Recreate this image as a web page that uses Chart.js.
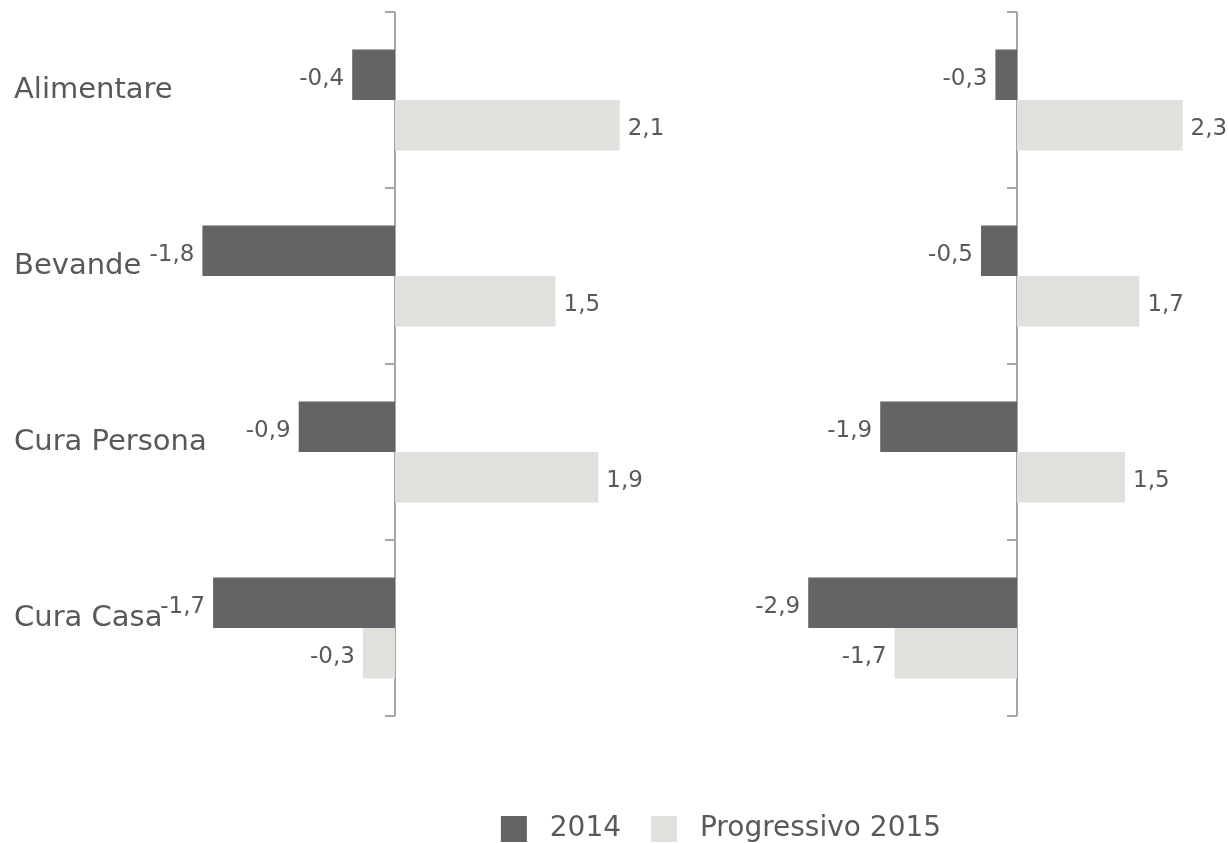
<!DOCTYPE html>
<html lang="it">
<head>
<meta charset="utf-8">
<title>2014 / Progressivo 2015</title>
<script src="https://cdn.jsdelivr.net/npm/chart.js@4/dist/chart.umd.min.js"></script>
<style>
  html, body { margin: 0; padding: 0; background: #fff; overflow: hidden; }
  #wrap { width: 1228px; height: 843px; overflow: hidden; position: relative; }
  canvas { display: block; }
</style>
</head>
<body>
<div id="wrap">
  <canvas id="chart" width="1442" height="853"></canvas>
</div>
<script>
// Data
const categories  = ['Alimentare', 'Bevande', 'Cura Persona', 'Cura Casa'];
const seriesNames = ['2014', 'Progressivo 2015'];
const left2014    = [-0.4, -1.8, -0.9, -1.7];
const leftProg    = [2.1, 1.5, 1.9, -0.3];
const right2014   = [-0.3, -0.5, -1.9, -2.9];
const rightProg   = [2.3, 1.7, 1.5, -1.7];

// Look
const DARK  = '#636466';
const LIGHT = '#e0e1dc';
const TEXT  = '#595959';
const AXIS  = '#a6a6a6';
const FONT  = '"DejaVu Sans", Verdana, sans-serif';

// Each panel has its own value scale, both spread over the full canvas width.
// zero = pixel where the value 0 falls, unit = pixels per 1.0
const W = 1442;
const panelL = { zero: 395, unit: 107 };
const panelR = { zero: 1017, unit: 72 };
const range = p => ({ min: -p.zero / p.unit, max: (W - p.zero) / p.unit });

function fmt(v) {
  return v.toFixed(1).replace('.', ',');
}

// zero line with small ticks at the category boundaries
const axisLines = {
  id: 'axisLines',
  beforeDatasetsDraw(chart) {
    const { ctx, chartArea, scales } = chart;
    const y = scales.y;
    ctx.save();
    ctx.strokeStyle = AXIS;
    ctx.lineWidth = 2;
    ['xL', 'xR'].forEach(id => {
      const x0 = Math.round(scales[id].getPixelForValue(0));
      ctx.beginPath();
      ctx.moveTo(x0, chartArea.top);
      ctx.lineTo(x0, chartArea.bottom);
      for (let i = 0; i <= categories.length; i++) {
        const yy = Math.round(y.getPixelForValue(i - 0.5));
        ctx.moveTo(x0 - 10, yy);
        ctx.lineTo(x0, yy);
      }
      ctx.stroke();
    });
    ctx.restore();
  }
};

// category names on the left, value labels beside each bar
const textLabels = {
  id: 'textLabels',
  afterDatasetsDraw(chart) {
    const { ctx, scales } = chart;
    ctx.save();
    ctx.fillStyle = TEXT;

    ctx.font = '29px ' + FONT;
    ctx.textAlign = 'left';
    ctx.textBaseline = 'alphabetic';
    categories.forEach((c, i) => {
      ctx.fillText(c, 14, scales.y.getPixelForValue(i) - 2);
    });

    ctx.font = '23px ' + FONT;
    chart.data.datasets.forEach((ds, di) => {
      const meta = chart.getDatasetMeta(di);
      meta.data.forEach((bar, i) => {
        const v = ds.data[i];
        const neg = v < 0;
        ctx.textAlign = neg ? 'right' : 'left';
        ctx.fillText(fmt(v), bar.x + (neg ? -8 : 8), bar.y + 10);
      });
    });
    ctx.restore();
  }
};

const bar = (label, data, axis, stack, color) => ({
  label, data, xAxisID: axis, stack,
  backgroundColor: color,
  borderWidth: 0,
  barPercentage: 1,
  categoryPercentage: 0.574
});

new Chart(document.getElementById('chart'), {
  type: 'bar',
  data: {
    labels: categories,
    datasets: [
      bar(seriesNames[0], left2014,  'xL', 'a', DARK),
      bar(seriesNames[1], leftProg,  'xL', 'b', LIGHT),
      bar(seriesNames[0], right2014, 'xR', 'a', DARK),
      bar(seriesNames[1], rightProg, 'xR', 'b', LIGHT)
    ]
  },
  options: {
    indexAxis: 'y',
    responsive: false,
    animation: false,
    layout: { padding: { top: 12, left: 0, right: 0, bottom: 0 } },
    scales: {
      y: { display: false },
      xL: {
        type: 'linear', axis: 'x', position: 'bottom', stacked: false,
        ...range(panelL),
        grid: { display: false }, border: { display: false }, ticks: { display: false },
        // keeps the gap between the bars and the legend
        afterFit(s) { s.height = 69; }
      },
      xR: {
        type: 'linear', axis: 'x', position: 'bottom', stacked: false,
        ...range(panelR),
        display: false
      }
    },
    plugins: {
      tooltip: { enabled: false },
      legend: {
        position: 'bottom',
        labels: {
          color: TEXT,
          font: { family: FONT, size: 28 },
          boxWidth: 26,
          boxHeight: 26,
          padding: 30,
          // one entry per series; a leading space widens the gap after the swatch
          generateLabels(chart) {
            return Chart.defaults.plugins.legend.labels.generateLabels(chart)
              .filter(item => chart.data.datasets[item.datasetIndex].xAxisID === 'xL')
              .map(item => ({ ...item, text: ' ' + item.text }));
          }
        }
      }
    }
  },
  plugins: [axisLines, textLabels]
});
</script>
</body>
</html>
